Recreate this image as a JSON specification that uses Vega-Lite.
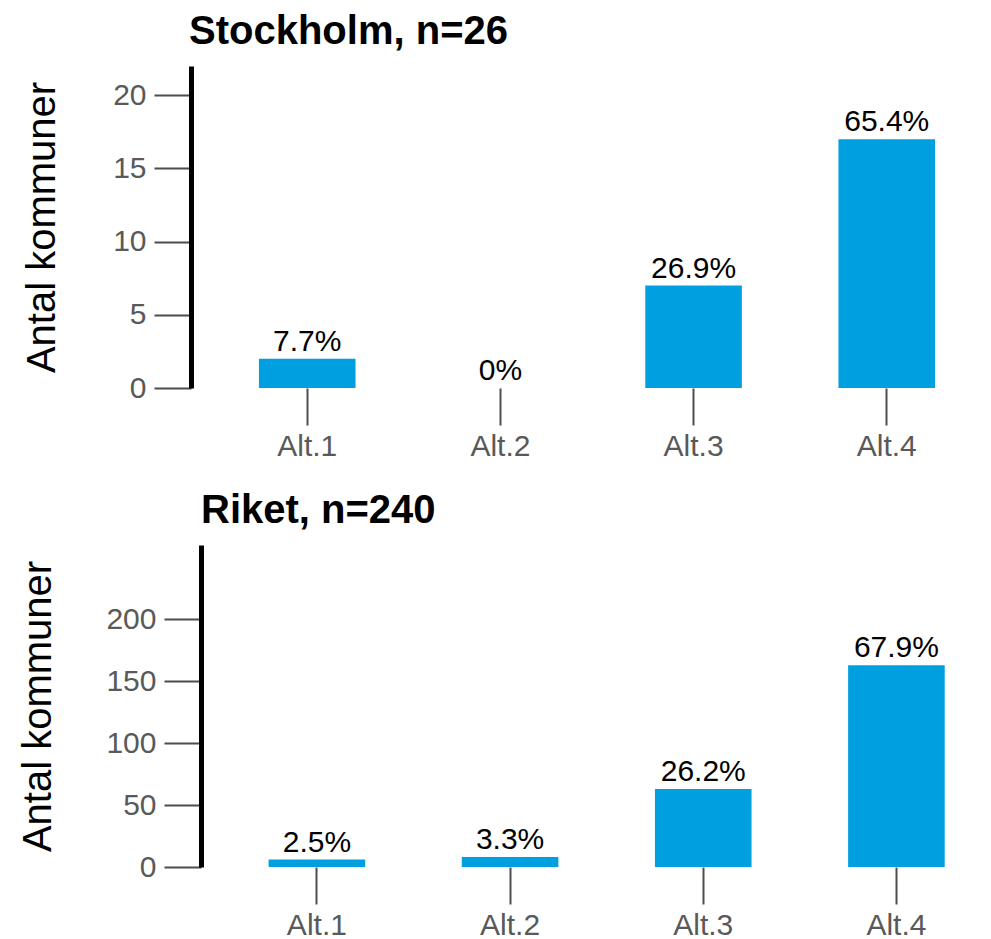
{
  "$schema": "https://vega.github.io/schema/vega-lite/v6.json",
  "background": "white",
  "padding": {"left": 18, "top": 12, "right": 0, "bottom": 0},
  "data": {
    "values": [
      {"region": "Stockholm", "alt": "Alt.1", "count": 2, "pct": "7.7%"},
      {"region": "Stockholm", "alt": "Alt.2", "count": 0, "pct": "0%"},
      {"region": "Stockholm", "alt": "Alt.3", "count": 7, "pct": "26.9%"},
      {"region": "Stockholm", "alt": "Alt.4", "count": 17, "pct": "65.4%"},
      {"region": "Riket", "alt": "Alt.1", "count": 6, "pct": "2.5%"},
      {"region": "Riket", "alt": "Alt.2", "count": 8, "pct": "3.3%"},
      {"region": "Riket", "alt": "Alt.3", "count": 63, "pct": "26.2%"},
      {"region": "Riket", "alt": "Alt.4", "count": 163, "pct": "67.9%"}
    ]
  },
  "columns": 1,
  "spacing": 30,
  "concat": [
    {
      "width": 770,
      "height": 322,
      "title": {"text": "Stockholm, n=26", "anchor": "start", "frame": "group", "fontSize": 40, "fontWeight": "bold", "color": "black", "offset": 14, "dx": -12},
      "transform": [{"filter": "datum.region === 'Stockholm'"}],
      "encoding": {
        "x": {"field": "alt", "type": "nominal", "sort": null,
          "scale": {"paddingInner": 0.5, "paddingOuter": 0.243, "align": 0.617},
          "axis": {"title": null, "labelAngle": 0, "domain": false, "tickSize": 37, "tickColor": "#4d4d4d", "tickWidth": 2, "labelFontSize": 30, "labelColor": "#595959", "labelPadding": 6}}
      },
      "layer": [
        {"mark": {"type": "bar", "color": "#009FE0"},
         "encoding": {"y": {"field": "count", "type": "quantitative", "scale": {"domain": [0, 22]},
           "axis": {"title": "Antal kommuner", "titleFontSize": 40, "titleFontWeight": "normal", "titleColor": "black", "values": [0, 5, 10, 15, 20], "labelFontSize": 30, "labelColor": "#595959", "tickSize": 37, "tickColor": "#4d4d4d", "tickWidth": 2, "domainColor": "black", "domainWidth": 5, "labelPadding": 8, "titlePadding": 50, "offset": 10, "grid": false}}}},
        {"mark": {"type": "text", "baseline": "alphabetic", "dy": -8, "fontSize": 30, "color": "black"},
         "encoding": {"y": {"field": "count", "type": "quantitative"}, "text": {"field": "pct"}}}
      ]
    },
    {
      "width": 770,
      "height": 322,
      "title": {"text": "Riket, n=240", "anchor": "start", "frame": "group", "fontSize": 40, "fontWeight": "bold", "color": "black", "offset": 14},
      "transform": [{"filter": "datum.region === 'Riket'"}],
      "encoding": {
        "x": {"field": "alt", "type": "nominal", "sort": null,
          "scale": {"paddingInner": 0.5, "paddingOuter": 0.243, "align": 0.72},
          "axis": {"title": null, "labelAngle": 0, "domain": false, "tickSize": 37, "tickColor": "#4d4d4d", "tickWidth": 2, "labelFontSize": 30, "labelColor": "#595959", "labelPadding": 6}}
      },
      "layer": [
        {"mark": {"type": "bar", "color": "#009FE0"},
         "encoding": {"y": {"field": "count", "type": "quantitative", "scale": {"domain": [0, 244]},
           "axis": {"title": "Antal kommuner", "titleFontSize": 40, "titleFontWeight": "normal", "titleColor": "black", "values": [0, 50, 100, 150, 200], "labelFontSize": 30, "labelColor": "#595959", "tickSize": 37, "tickColor": "#4d4d4d", "tickWidth": 2, "domainColor": "black", "domainWidth": 5, "labelPadding": 8, "titlePadding": 47, "grid": false}}}},
        {"mark": {"type": "text", "baseline": "alphabetic", "dy": -8, "fontSize": 30, "color": "black"},
         "encoding": {"y": {"field": "count", "type": "quantitative"}, "text": {"field": "pct"}}}
      ]
    }
  ],
  "config": {
    "font": "Liberation Sans",
    "view": {"stroke": null},
    "axis": {"grid": false}
  }
}
